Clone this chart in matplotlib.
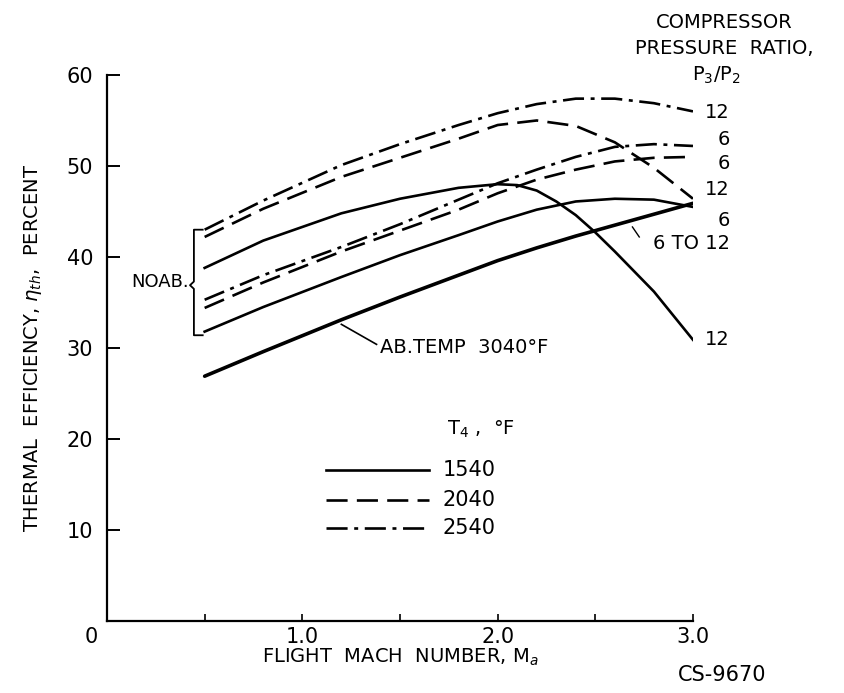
import matplotlib
matplotlib.use("Agg")
import matplotlib.pyplot as plt

plt.rcParams.update({
    'font.family': 'DejaVu Sans',
    'font.size': 14,
    'mathtext.fontset': 'dejavusans',
})

# Flight Mach number grid
mach = [0.5, 0.8, 1.2, 1.5, 1.8, 2.0, 2.2, 2.4, 2.6, 2.8, 3.0]
mach_pk = [0.5, 0.8, 1.2, 1.5, 1.8, 2.0, 2.1, 2.2, 2.3, 2.4, 2.5, 2.6, 2.7, 2.8, 3.0]

# Thermal efficiency, percent
t2540_pr12 = [43.0, 46.2, 50.1, 52.4, 54.5, 55.8, 56.8, 57.4, 57.4, 56.9, 56.0]
t2040_pr12 = [42.2, 45.3, 48.8, 50.9, 53.0, 54.5, 55.0, 54.4, 52.6, 49.8, 46.4]
t2540_pr6 = [35.3, 38.0, 41.1, 43.6, 46.3, 48.1, 49.6, 51.0, 52.1, 52.4, 52.2]
t2040_pr6 = [34.4, 37.2, 40.6, 42.9, 45.2, 47.0, 48.5, 49.6, 50.5, 50.9, 51.0]
t1540_pr12 = [38.8, 41.8, 44.8, 46.4, 47.6, 48.0, 47.9, 47.3, 46.1, 44.6, 42.7, 40.6, 38.4, 36.2, 30.9]
t1540_pr6 = [31.8, 34.5, 37.8, 40.2, 42.4, 43.9, 45.2, 46.1, 46.4, 46.3, 45.5]
ab_3040 = [26.9, 29.6, 33.1, 35.6, 38.0, 39.6, 41.0, 42.3, 43.5, 44.7, 45.9]

# right-hand pressure ratio labels (text, efficiency)
pr_labels = [('12', 55.9), ('6', 52.9), ('6', 50.3), ('12', 47.4),
             ('6', 44.0), ('6 TO 12', 41.5), ('12', 30.9)]

legend_temps = ['1540', '2040', '2540']

DASH = (0, (8, 3.5))
DASHDOT = (0, (8, 2.5, 1.5, 2.5))
LW = 1.9

fig = plt.figure(figsize=(8.45, 6.93), dpi=100)
ax = fig.add_axes([0.1266, 0.1039, 0.6935, 0.7879])

ax.plot(mach, t2540_pr12, color='black', lw=LW, ls=DASHDOT)
ax.plot(mach, t2040_pr12, color='black', lw=LW, ls=DASH)
ax.plot(mach, t2540_pr6, color='black', lw=LW, ls=DASHDOT)
ax.plot(mach, t2040_pr6, color='black', lw=LW, ls=DASH)
ax.plot(mach_pk, t1540_pr12, color='black', lw=LW, ls='-')
ax.plot(mach, t1540_pr6, color='black', lw=LW, ls='-')
ax.plot(mach, ab_3040, color='black', lw=2.6, ls='-', solid_capstyle='round')

ax.set_xlim(0, 3.0)
ax.set_ylim(0, 60)
for s in ['top', 'right']:
    ax.spines[s].set_visible(False)
for s in ['left', 'bottom']:
    ax.spines[s].set_linewidth(1.6)

ax.set_xticks([0, 0.5, 1.0, 1.5, 2.0, 2.5, 3.0])
ax.set_xticklabels(['', '', '1.0', '', '2.0', '', '3.0'])
ax.set_yticks([0, 10, 20, 30, 40, 50, 60])
ax.set_yticklabels(['', '10', '20', '30', '40', '50', '60'])
ax.tick_params(axis='y', direction='in', length=9, width=1.4, pad=10, labelsize=15)
ax.tick_params(axis='x', direction='in', length=5, width=1.2, pad=4, labelsize=15)
ax.text(-0.08, -1.8, '0', ha='center', va='center', fontsize=15)

ax.set_xlabel('FLIGHT  MACH  NUMBER, M$_a$', fontsize=14, labelpad=0)
ax.set_ylabel(r'THERMAL  EFFICIENCY, $\eta_{th}$,  PERCENT', fontsize=14, labelpad=16)

# pressure ratio labels on the right
for lab, val in pr_labels:
    ax.text(3.19, val, lab, ha='right', va='center', fontsize=14, clip_on=False)
ax.plot([2.69, 2.725], [43.3, 42.2], color='black', lw=1.0, clip_on=False)

# header
ax.text(3.16, 65.8, 'COMPRESSOR', ha='center', va='center', fontsize=14, clip_on=False)
ax.text(3.16, 62.9, 'PRESSURE  RATIO,', ha='center', va='center', fontsize=14, clip_on=False)
ax.text(3.12, 60.0, 'P$_3$/P$_2$', ha='center', va='center', fontsize=14, clip_on=False)

# afterburner label
ax.plot([1.20, 1.38], [32.6, 30.4], color='black', lw=1.2)
ax.text(1.40, 30.1, 'AB.TEMP  3040°F', ha='left', va='center', fontsize=14)

# NO A.B. bracket
bx = [0.49, 0.445, 0.445, 0.425, 0.445, 0.445, 0.49]
by = [43.0, 43.0, 37.3, 36.9, 36.5, 31.4, 31.4]
ax.plot(bx, by, color='black', lw=1.3)
ax.text(0.42, 37.2, 'NOAB.', ha='right', va='center', fontsize=13)

# T4 key
ax.text(1.915, 21.1, 'T$_4$ ,  °F', ha='center', va='center', fontsize=14)
key_styles = ['-', DASH, DASHDOT]
key_vals = [16.6, 13.3, 10.2]
for temp, style, yv in zip(legend_temps, key_styles, key_vals):
    ax.plot([1.12, 1.65], [yv, yv], color='black', lw=LW, ls=style)
    ax.text(1.72, yv, temp, ha='left', va='center', fontsize=15)

fig.text(0.855, 0.026, 'CS-9670', ha='center', va='center', fontsize=15)

fig.savefig('out.png', dpi=100)
